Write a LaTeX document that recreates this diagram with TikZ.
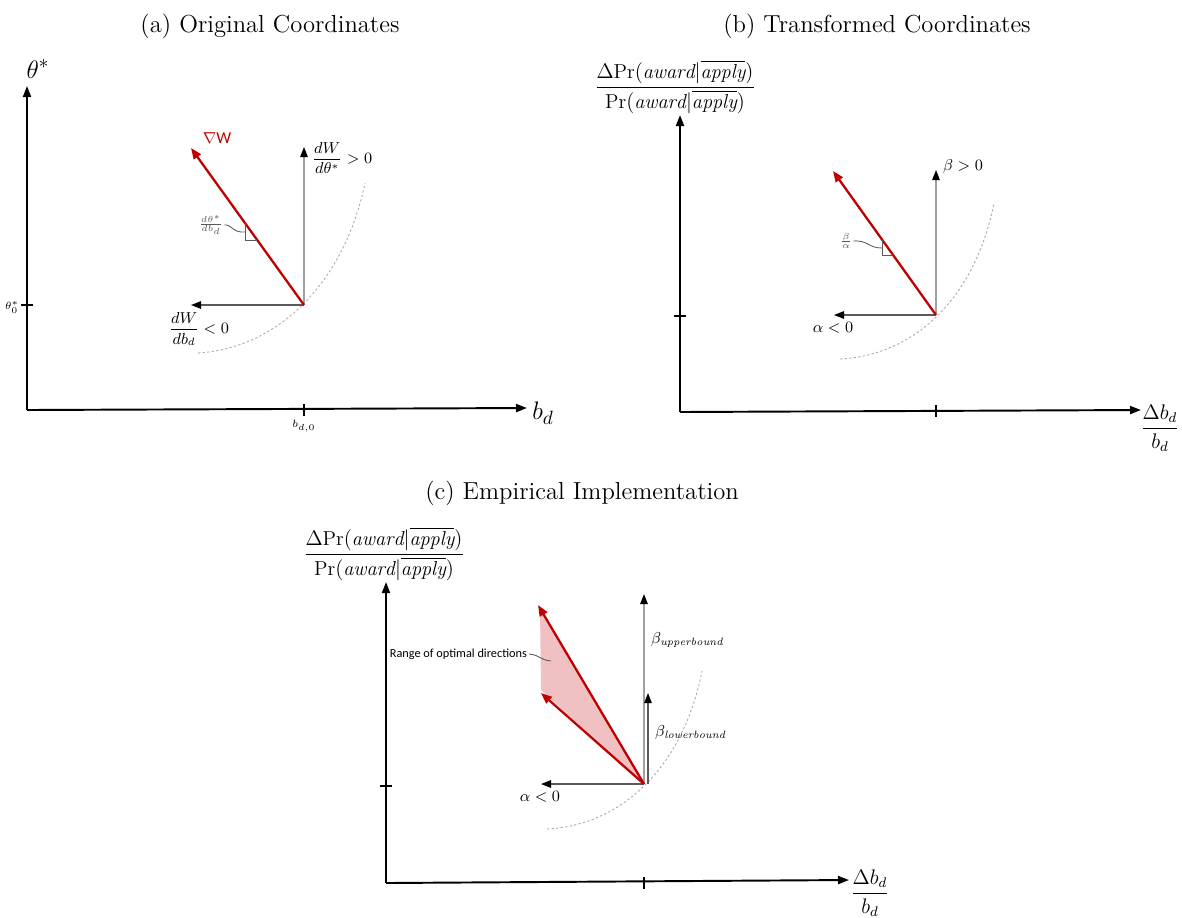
\documentclass[tikz,border=0pt]{standalone}
\usepackage{amsmath,amssymb}
\usepackage{fontspec}
\newfontfamily\calib{Carlito}
\usetikzlibrary{arrows.meta,positioning,calc}
\definecolor{vecred}{RGB}{192,0,0}
\definecolor{conefill}{RGB}{241,192,194}
\definecolor{vecgray}{RGB}{160,160,160}
\definecolor{darkvec}{RGB}{90,90,90}
\definecolor{arcgray}{RGB}{170,170,170}
\newcommand{\condpr}{(\mathit{award}|\overline{\mathit{apply}})}

\begin{document}
\begin{tikzpicture}[x=0.02cm,y=-0.02cm,
  ttl/.style={font=\fontsize{14}{16}\selectfont,inner sep=0pt},
  axisline/.style={line width=1.1pt,-{Triangle[length=2.2mm,width=1.6mm]}},
  vec/.style={vecgray,line width=0.7pt,-{Triangle[length=2mm,width=1.5mm,color=black]}},
  hvec/.style={vec,darkvec},
  grad/.style={vecred,line width=1.3pt,-{Triangle[length=2.2mm,width=1.7mm]}},
  lev/.style={arcgray,line width=0.5pt,dash pattern=on 1.3pt off 1.3pt},
  tickmark/.style={line width=0.8pt},
  slope/.style={darkvec,line width=0.5pt},
  big/.style={font=\fontsize{15}{17}\selectfont,inner sep=1pt},
  lab/.style={font=\fontsize{9}{11}\selectfont,inner sep=1pt},
  mini/.style={font=\fontsize{6.5}{7}\selectfont,inner sep=0.5pt},
  ylab/.style={font=\fontsize{11.5}{13}\selectfont,inner sep=0pt}]
\useasboundingbox (0,0) rectangle (1182,917);

% (a) original coordinates
\node[ttl] (ta) at (270,26) {(a) Original Coordinates};
\coordinate (oa) at (27,410);
\coordinate (ya) at (27,86);
\coordinate (xa) at (527,408);
\draw[axisline] (oa) -- (ya);
\draw[axisline] (oa) -- (xa);
\node[big] (tha) at (38,69) {$\theta^*$};
\node[big] (bda) at (543,413) {$b_d$};
\draw[tickmark] (21,305) -- (33,305);
\draw[tickmark] (304,404) -- (304,416);
\node[mini] (t0a) at (12,307) {$\theta_0^*$};
\node[mini] (b0a) at (304,426) {$b_{d,0}$};
\draw[lev] (198,353) .. controls (280,348) and (345,280) .. (365,183);
\coordinate (pa) at (304,305);
\coordinate (ua) at (304,147);
\coordinate (la) at (191,305);
\coordinate (ga) at (191,148);
\draw[vec] (pa) -- (ua);
\draw[hvec] (pa) -- (la);
\draw[grad] (pa) -- (ga);
\node[font=\calib\fontsize{9.5}{11}\selectfont,text=vecred,inner sep=0pt] (nw) at (217,138) {$\nabla$W};
\node[lab,anchor=west] (dwt) at (310,158) {$\dfrac{dW}{d\theta^*}>0$};
\node[lab] (dwb) at (199,329) {$\dfrac{dW}{db_d}<0$};
\draw[slope] (245,223) -- (245,240) -- (257,240);
\node[mini,text=darkvec] (sa) at (211,225) {$\frac{d\theta^*}{db_d}$};
\draw[slope] (sa.east) .. controls (232,224) and (232,233) .. (245,232);

% (b) transformed coordinates
\node[ttl] (tb) at (877,26) {(b) Transformed Coordinates};
\coordinate (ob) at (680,412);
\coordinate (yb) at (680,115);
\coordinate (xb) at (1141,410);
\draw[axisline] (ob) -- (yb);
\draw[axisline] (ob) -- (xb);
\node[ylab] (pyb) at (675,87) {$\dfrac{\Delta\mathrm{Pr}\condpr}{\mathrm{Pr}\condpr}$};
\node[ylab] (pxb) at (1160,428) {$\dfrac{\Delta b_d}{b_d}$};
\draw[tickmark] (674,316) -- (686,316);
\draw[tickmark] (936,405) -- (936,417);
\draw[lev] (840,359) .. controls (918,355) and (976,294) .. (994,203);
\coordinate (pb) at (936,315);
\coordinate (ub) at (936,170);
\coordinate (lb) at (834,315);
\coordinate (gb) at (833,171);
\draw[vec] (pb) -- (ub);
\draw[hvec] (pb) -- (lb);
\draw[grad] (pb) -- (gb);
\node[lab,anchor=west] (bpos) at (941,167) {$\beta>0$};
\node[lab] (aneg) at (833,328) {$\alpha<0$};
\draw[slope] (882,240) -- (882,255) -- (893,255);
\node[mini,text=darkvec] (sb) at (846,241) {$\frac{\beta}{\alpha}$};
\draw[slope] (sb.east) .. controls (868,240) and (868,248) .. (882,248);

% (c) empirical implementation
\node[ttl] (tc) at (582,493) {(c) Empirical Implementation};
\coordinate (oc) at (386,883);
\coordinate (yc) at (386,582);
\coordinate (xc) at (849,880);
\draw[axisline] (oc) -- (yc);
\draw[axisline] (oc) -- (xc);
\node[ylab] (pyc) at (384,554) {$\dfrac{\Delta\mathrm{Pr}\condpr}{\mathrm{Pr}\condpr}$};
\node[ylab] (pxc) at (870,893) {$\dfrac{\Delta b_d}{b_d}$};
\draw[tickmark] (380,786) -- (392,786);
\draw[tickmark] (644,877) -- (644,889);
\draw[lev] (547,829) .. controls (625,825) and (684,763) .. (702,671);
\coordinate (pc) at (644,784);
\coordinate (uc) at (644,594);
\coordinate (qc) at (648,784);
\coordinate (vc) at (648,693);
\coordinate (lc) at (541,784);
\coordinate (g1) at (538,605);
\coordinate (g2) at (541,693);
\fill[conefill] (pc) -- (540,608) -- (541,690) -- cycle;
\draw[vec] (pc) -- (uc);
\draw[hvec] (qc) -- (vc);
\draw[hvec] (pc) -- (lc);
\draw[grad] (pc) -- (g1);
\draw[grad] (pc) -- (g2);
\node[lab,anchor=west] (bup) at (649,640) {$\beta_{\mathit{upperbound}}$};
\node[lab,anchor=west] (blo) at (653,733) {$\beta_{\mathit{lowerbound}}$};
\node[lab] (anc) at (540,797) {$\alpha<0$};
\node[font=\calib\fontsize{7}{8}\selectfont,inner sep=1pt,anchor=east] (rng) at (529,654) {Range of optimal directions};
\draw[slope] (rng.east) .. controls (540,655) and (540,660) .. (551,661);
\end{tikzpicture}
\end{document}
